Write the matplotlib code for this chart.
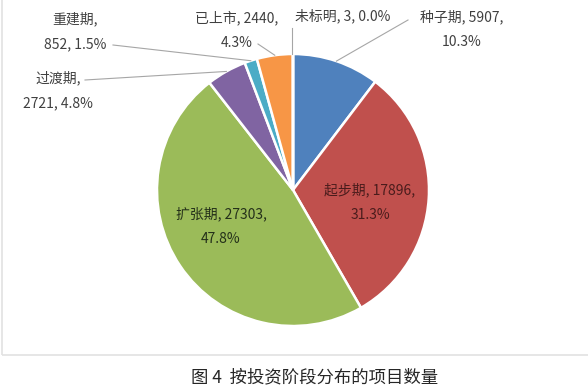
import numpy as np
import matplotlib
matplotlib.use('Agg')
import matplotlib.pyplot as plt
from matplotlib.patches import Rectangle

plt.rcParams['font.family'] = ['Noto Sans CJK SC', 'DejaVu Sans']

# données
stages = ['种子期', '起步期', '扩张期', '过渡期', '重建期', '已上市', '未标明']
counts = [5907, 17896, 27303, 2721, 852, 2440, 3]
colors = ['#4F81BD', '#C0504D', '#9BBB59', '#8064A2', '#4BACC6', '#F79646', '#2C4D75']
title = '图 4  按投资阶段分布的项目数量'

W, H = 588, 392
fig = plt.figure(figsize=(W / 100, H / 100), dpi=100)

# le camembert dans un axe à part
cx, cy, r = 293, 190, 136
pax = fig.add_axes([(cx - r) / W, 1 - (cy + r) / H, 2 * r / W, 2 * r / H])
wedges, _ = pax.pie(counts, colors=colors, startangle=90, counterclock=False,
                    wedgeprops=dict(edgecolor='white', linewidth=1.8))
pax.set_xlim(-1, 1)
pax.set_ylim(-1, 1)
pax.set_aspect('auto')

# axe en pixels par-dessus pour les textes et les traits
ax = fig.add_axes([0, 0, 1, 1])
ax.set_xlim(0, W)
ax.set_ylim(H, 0)
ax.axis('off')

# cadre gris clair
fig.patches.append(Rectangle((2 / W, 1 - 355 / H), 1, 1, transform=fig.transFigure,
                             fill=False, edgecolor='#e2e2e2', lw=1.2))

total = sum(counts)
pct = [f'{100 * c / total:.1f}%' for c in counts]


def edge_point(w, rr=1.0):
    a = np.deg2rad((w.theta1 + w.theta2) / 2)
    return cx + r * rr * np.cos(a), cy - r * rr * np.sin(a)


txt = dict(ha='center', va='center', fontsize=10, color='#404040', linespacing=2.0)
lc = dict(color='#a6a6a6', lw=0.8)

# étiquettes extérieures : (texte, position, début du trait)
outside = {
    4: (f'{stages[4]},\n{counts[4]}, {pct[4]}', (75, 31), (113, 45)),
    3: (f'{stages[3]},\n{counts[3]}, {pct[3]}', (58, 90), (85, 80)),
    5: (f'{stages[5]}, {counts[5]},\n{pct[5]}', (237, 30), (258, 44)),
    6: (f'{stages[6]}, {counts[6]}, {pct[6]}', (343, 16), (292, 28)),
    0: (f'{stages[0]}, {counts[0]},\n{pct[0]}', (462, 29), (408, 20)),
}
for i, (label, (tx, ty), (lx, ly)) in outside.items():
    ax.text(tx, ty, label, **txt)
    ex, ey = edge_point(wedges[i])
    if i == 6:
        ex, ey = cx - 1, cy - r
    ax.plot([lx, ex], [ly, ey], **lc)

# étiquettes intérieures
ax.text(370, 202, f'{stages[1]}, {counts[1]},\n{pct[1]}', **{**txt, 'color': '#4a1c1c'})
ax.text(221, 226, f'{stages[2]}, {counts[2]},\n{pct[2]}', **{**txt, 'color': '#24301a'})

ax.text(315, 377, title, ha='center', va='center', fontsize=12.5, color='#262626')

fig.savefig('out.png', dpi=100)
